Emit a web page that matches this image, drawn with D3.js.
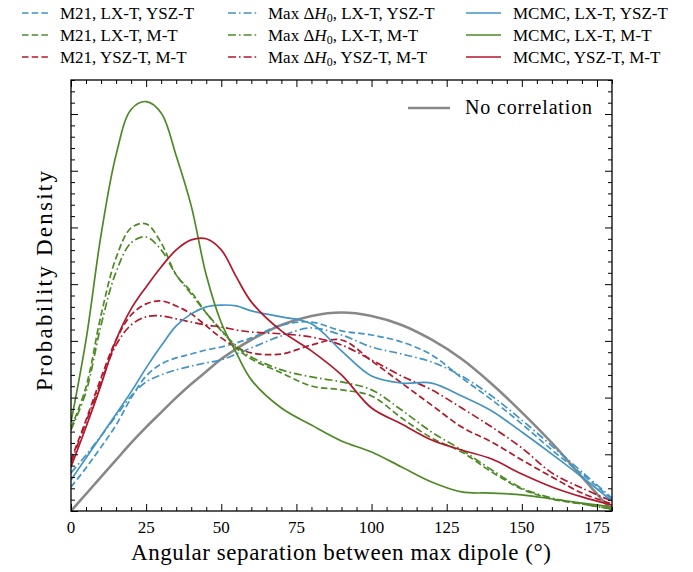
<!DOCTYPE html>
<html><head><meta charset="utf-8">
<script src="https://cdn.jsdelivr.net/npm/d3@7"></script>
<style>body{margin:0;background:#fff}svg{display:block}</style>
</head><body><svg id="c" width="693" height="572"></svg>
<script>
// angular separation grid (degrees)
const angles = [0,5,10,15,20,25,30,35,40,45,50,55,60,70,80,90,100,110,120,130,140,150,160,170,180];
// probability density, in units of 1e-3 per degree
const noCorrelation = [0,0.75,1.5,2.25,3.0,3.7,4.35,5.0,5.6,6.15,6.7,7.15,7.55,8.2,8.6,8.75,8.6,8.2,7.55,6.7,5.6,4.35,3.0,1.5,0];
const m21_LX_YSZ   = [1.06,1.90,2.82,3.79,4.98,5.95,6.48,6.75,6.92,7.10,7.23,7.41,7.63,8.20,8.33,7.94,7.76,7.45,6.88,5.87,4.90,3.84,2.69,1.63,0.53];
const m21_LX_M     = [3.66,5.47,8.64,11.16,12.48,12.66,11.82,10.41,9.66,8.73,7.98,7.19,6.70,6.09,5.51,5.34,5.07,4.10,3.22,2.60,1.72,0.97,0.53,0.31,0.09];
const m21_YSZ_M    = [2.25,4.01,5.87,7.54,8.64,9.13,9.26,9.04,8.69,8.16,7.63,7.23,6.97,6.92,7.32,7.54,6.62,5.64,4.67,3.70,3.04,2.25,1.50,0.79,0.31];
const maxH0_LX_YSZ = [1.68,2.47,3.31,4.19,5.07,5.69,6.00,6.22,6.39,6.53,6.66,6.92,7.19,7.72,8.07,7.76,7.23,6.92,6.57,5.95,5.07,4.01,2.87,1.72,0.57];
const maxH0_LX_M   = [3.57,5.25,8.20,10.54,11.82,12.08,11.51,10.41,9.57,8.73,7.94,7.28,6.79,6.22,5.91,5.69,5.34,4.45,3.48,2.69,1.81,1.01,0.57,0.31,0.09];
const maxH0_YSZ_M  = [2.12,3.92,5.69,7.32,8.20,8.56,8.60,8.47,8.33,8.20,8.11,7.98,7.89,7.81,7.67,7.32,6.66,5.95,5.34,4.54,3.70,2.78,1.68,1.01,0.44];
const mcmc_LX_YSZ  = [1.37,2.34,3.31,4.28,5.25,6.31,7.28,8.16,8.69,9.00,9.08,9.04,8.82,8.56,8.25,7.06,5.95,5.64,5.64,5.07,4.41,3.48,2.51,1.50,0.44];
const mcmc_LX_M    = [3.92,7.54,12.17,15.70,17.70,18.05,17.55,15.66,13.45,10.40,8.30,6.97,5.78,4.54,3.79,3.09,2.60,1.94,1.28,0.84,0.79,0.71,0.53,0.35,0.18];
const mcmc_YSZ_M   = [1.94,3.70,5.56,7.54,8.91,9.88,10.76,11.51,11.95,12.00,11.51,10.32,9.22,7.94,7.06,6.00,4.54,3.84,3.13,2.69,2.29,1.63,1.06,0.62,0.26];
const xTicks = [0,25,50,75,100,125,150,175];

const BLUE="#4393c3", GREEN="#4d8a26", RED="#b2182b", GRAY="#888888";
const DASH="6.5,3.2", DASHDOT="8,3,1.6,3";
const series = [
  {name:"M21, LX-T, YSZ-T", v:m21_LX_YSZ, c:BLUE, d:DASH, h0:false},
  {name:"M21, LX-T, M-T", v:m21_LX_M, c:GREEN, d:DASH, h0:false},
  {name:"M21, YSZ-T, M-T", v:m21_YSZ_M, c:RED, d:DASH, h0:false},
  {name:", LX-T, YSZ-T", v:maxH0_LX_YSZ, c:BLUE, d:DASHDOT, h0:true},
  {name:", LX-T, M-T", v:maxH0_LX_M, c:GREEN, d:DASHDOT, h0:true},
  {name:", YSZ-T, M-T", v:maxH0_YSZ_M, c:RED, d:DASHDOT, h0:true},
  {name:"MCMC, LX-T, YSZ-T", v:mcmc_LX_YSZ, c:BLUE, d:null, h0:false},
  {name:"MCMC, LX-T, M-T", v:mcmc_LX_M, c:GREEN, d:null, h0:false},
  {name:"MCMC, YSZ-T, M-T", v:mcmc_YSZ_M, c:RED, d:null, h0:false}
];

const svg = d3.select("#c");
svg.append("rect").attr("width",693).attr("height",572).attr("fill","#fff");
const L=71, R=612, T=80, B=511;
const x = d3.scaleLinear().domain([0,180]).range([L,R]);
const y = d3.scaleLinear().domain([0,19]).range([B,T]);
const FONT = "'Liberation Serif', 'DejaVu Serif', serif";

const plot = svg.append("g");
svg.append("clipPath").attr("id","clp").append("rect").attr("x",L).attr("y",T).attr("width",R-L).attr("height",B-T);
const line = d3.line().x((d,i)=>x(angles[i])).y(d=>y(d)).curve(d3.curveCatmullRom.alpha(0.5));

plot.append("path").datum(noCorrelation).attr("d",line).attr("fill","none")
  .attr("stroke",GRAY).attr("stroke-width",2.6).attr("clip-path","url(#clp)");
series.forEach(s=>{
  plot.append("path").datum(s.v).attr("d",line).attr("fill","none")
    .attr("stroke",s.c).attr("stroke-width",1.7).attr("stroke-dasharray",s.d)
    .attr("clip-path","url(#clp)");
});

// axes with inward ticks on all sides
function ticks(g, orient, scale, vals, len){
  const ax = (orient==="bottom"?d3.axisBottom:orient==="top"?d3.axisTop:orient==="left"?d3.axisLeft:d3.axisRight)(scale)
    .tickValues(vals).tickSizeInner(-len).tickSizeOuter(0).tickFormat("");
  g.call(ax); g.select(".domain").remove();
  g.selectAll(".tick line").attr("stroke","#000").attr("stroke-width",1);
}
const xMinor = d3.range(0,181,5).filter(v=>v%25!==0);
const yMajor = d3.range(0,19.01,2.5);
const yMinor = d3.range(0,19.01,0.5).filter(v=>Math.abs(v/2.5-Math.round(v/2.5))>1e-6);
[["bottom",B],["top",T]].forEach(([o,p])=>{
  ticks(svg.append("g").attr("transform",`translate(0,${p})`),o,x,xTicks,7);
  ticks(svg.append("g").attr("transform",`translate(0,${p})`),o,x,xMinor,4);
});
[["left",L],["right",R]].forEach(([o,p])=>{
  ticks(svg.append("g").attr("transform",`translate(${p},0)`),o,y,yMajor,7);
  ticks(svg.append("g").attr("transform",`translate(${p},0)`),o,y,yMinor,4);
});
svg.append("rect").attr("x",L).attr("y",T).attr("width",R-L).attr("height",B-T)
  .attr("fill","none").attr("stroke","#000").attr("stroke-width",1.3);

// x tick labels
svg.append("g").selectAll("text").data(xTicks).join("text")
  .attr("x",d=>x(d)).attr("y",533).attr("text-anchor","middle")
  .attr("font-family",FONT).attr("font-size",17).text(d=>d);

svg.append("text").attr("x",341).attr("y",560).attr("text-anchor","middle")
  .attr("font-family",FONT).attr("font-size",23).attr("textLength",420).attr("lengthAdjust","spacing")
  .text("Angular separation between max dipole (°)");
svg.append("text").attr("transform","translate(52,281) rotate(-90)").attr("text-anchor","middle")
  .attr("font-family",FONT).attr("font-size",23).attr("textLength",220).attr("lengthAdjust","spacing")
  .text("Probability Density");

// legend (top, 3 columns)
const colLine=[[22,50],[228,257],[466,501]], colText=[60,268,513], rowY=[13,35,57];
series.forEach((s,i)=>{
  const c=Math.floor(i/3), cy=rowY[i%3];
  svg.append("line").attr("x1",colLine[c][0]).attr("x2",colLine[c][1]).attr("y1",cy).attr("y2",cy)
    .attr("stroke",s.c).attr("stroke-width",1.7).attr("stroke-dasharray",s.d);
  const t = svg.append("text").attr("x",colText[c]).attr("y",cy+5.5)
    .attr("font-family",FONT).attr("font-size",17);
  if(s.h0){
    t.append("tspan").text("Max Δ");
    t.append("tspan").attr("font-style","italic").text("H");
    t.append("tspan").attr("font-size",12).attr("dy",3).text("0");
    t.append("tspan").attr("dy",-3).text(s.name);
  } else t.text(s.name);
});

// inner legend
svg.append("line").attr("x1",408).attr("x2",450).attr("y1",108).attr("y2",108)
  .attr("stroke",GRAY).attr("stroke-width",2.6);
svg.append("text").attr("x",465).attr("y",114).attr("font-family",FONT).attr("font-size",20)
  .attr("textLength",127).attr("lengthAdjust","spacing").text("No correlation");
</script></body></html>
